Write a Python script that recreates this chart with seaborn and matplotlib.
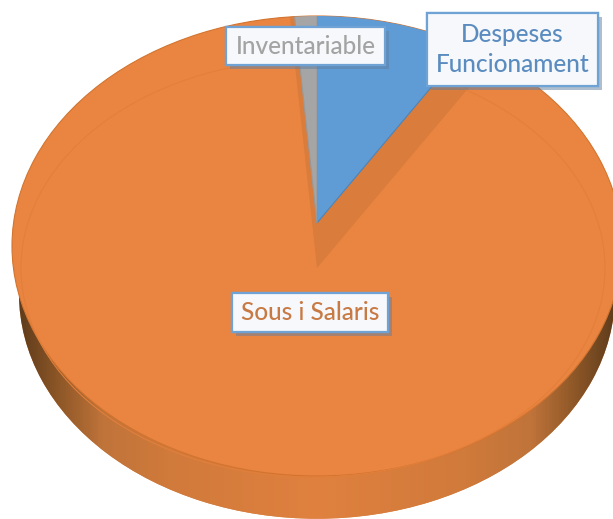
import matplotlib
matplotlib.use('Agg')
import numpy as np
import matplotlib.pyplot as plt
import matplotlib.patheffects as pe
from matplotlib.colors import LinearSegmentedColormap
from matplotlib.patches import Ellipse, Rectangle
import seaborn as sns

# shares of the budget, clockwise from 12 o'clock
categories = ['Despeses\nFuncionament', 'Sous i Salaris', 'Inventariable']
shares = [9.0, 89.7, 1.3]
colors = ['#5f9bd5', '#ea8541', '#a5a5a5']
text_colors = ['#5b8cc0', '#c87a45', '#a3a3a3']

W, H = 613, 519
A, B = 305.0, 230.0  # half axes of the tilted pie, in pixels
CX, CY = 317, 246


def px(x, y):
    # picture pixels to data units, one unit = one pie radius
    return x / A, (H - y) / B


def main():
    sns.set_theme(style='white')
    plt.rcParams['font.family'] = ['Lato', 'DejaVu Sans']

    fig = plt.figure(figsize=(W / 100, H / 100), dpi=100)
    ax = fig.add_axes([0, 0, 1, 1])

    # outline of the whole pie, used as clip for the shifted slices
    outer = ax.pie([1], colors=[colors[1]], center=px(CX, CY), radius=1,
                   wedgeprops={'linewidth': 0.8, 'edgecolor': '#d2742f', 'zorder': 3})[0][0]

    # side wall, a bit narrower than the top so it tapers at the sides
    wall = ax.pie([1], colors=['#d9803f'], center=px(CX, 294), radius=298 / A,
                  wedgeprops={'linewidth': 0, 'zorder': 1})[0][0]
    cmap = LinearSegmentedColormap.from_list('wall', [(0, '#5f3c1c'), (0.06, '#8a5526'), (0.14, '#c0743a'),
                                                      (0.25, '#d07a3b'), (0.5, '#e0813f'), (0.75, '#d07a3b'),
                                                      (0.86, '#c0743a'), (0.94, '#8a5526'), (1, '#5f3c1c')])
    grad = ax.imshow(np.linspace(0, 1, 512).reshape(1, -1), cmap=cmap, aspect='auto', zorder=2,
                     extent=(px(19, 0)[0], px(615, 0)[0], px(0, H)[1], px(0, 0)[1]))
    grad.set_clip_path(wall)

    # inner wall of the gap left by the pulled out slices
    gap = ax.pie(shares, colors=['#d97c3c', 'none', '#d97c3c'],
                 startangle=90, counterclock=False, center=px(CX, 268), radius=1.4,
                 wedgeprops={'linewidth': 0, 'zorder': 4})[0]
    for w in gap:
        w.set_clip_on(True)
        w.set_clip_path(outer)

    # bevel line on the top face, only a faint trace in the original
    ax.add_patch(Ellipse(px(313, 268), 2 * 292 / A, 2 * 209 / B, fill=False,
                         edgecolor='#e27f3b', linewidth=0.8, zorder=4))

    # pulled out slices
    front = ax.pie(shares, colors=[colors[0], 'none', colors[2]],
                   startangle=90, counterclock=False, center=px(CX, 223), radius=1.4,
                   wedgeprops={'linewidth': 0.8, 'zorder': 5})[0]
    front[0].set_edgecolor('#4f83b5')
    front[1].set_edgecolor('none')
    front[2].set_edgecolor('#999999')
    for w in front:
        w.set_clip_on(True)
        w.set_clip_path(outer)

    # label boxes: x0, y0, x1, y1 in pixels
    boxes = [(427, 13, 598, 86), (232, 293, 388, 332), (226, 27, 385, 65)]
    for label, col, (x0, y0, x1, y1) in zip(categories, text_colors, boxes):
        left, bottom = px(x0, y1)
        right, top = px(x1, y0)
        rect = Rectangle((left, bottom), right - left, top - bottom, facecolor='#f6f8fb',
                         edgecolor='#6fa3d6', linewidth=1.6, zorder=7)
        rect.set_path_effects([pe.withSimplePatchShadow(offset=(3, -3), shadow_rgbFace='#5f7f9f', alpha=0.5),
                               pe.Normal()])
        ax.add_patch(rect)
        ax.text((left + right) / 2, (bottom + top) / 2, label, color=col, fontsize=17.6, fontweight='medium',
                ha='center', va='center', linespacing=1.35, zorder=8)

    ax.set_aspect('auto')
    ax.set_xlim(0, W / A)
    ax.set_ylim(0, H / B)
    ax.axis('off')
    sns.despine(ax=ax, left=True, bottom=True)
    fig.savefig('out.png', dpi=100, facecolor='white')


if __name__ == '__main__':
    main()
